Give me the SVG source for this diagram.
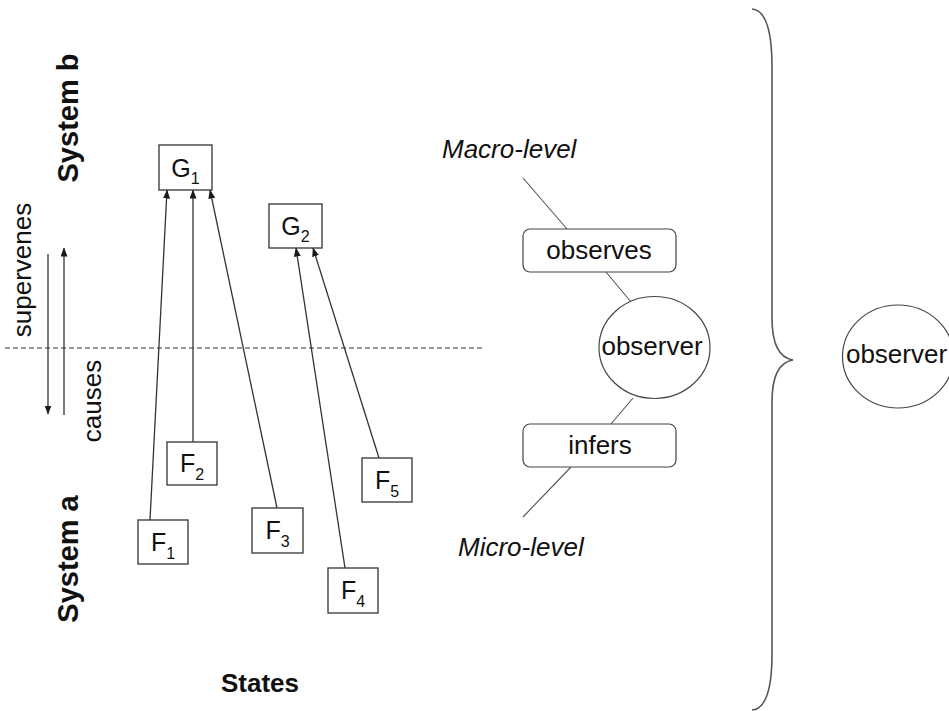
<svg xmlns="http://www.w3.org/2000/svg" width="949" height="711" viewBox="0 0 949 711">
<defs>
<marker id="ah" markerUnits="userSpaceOnUse" markerWidth="9" markerHeight="7" refX="8.5" refY="3.5" orient="auto">
<path d="M0,0 L9,3.5 L0,7 z" fill="#1a1a1a"/>
</marker>
<style>
text{font-family:"Liberation Sans",Arial,sans-serif;fill:#111;}
.t{font-size:26px;}
.b{font-weight:bold;}
.i{font-style:italic;}
.lbl{font-size:25px;text-anchor:middle;}
.sub{font-size:16px;}
.box{fill:#fff;stroke:#333;stroke-width:1.3;}
.rbox{fill:#fff;stroke:#444;stroke-width:1.2;}
.arr{stroke:#333;stroke-width:1.3;fill:none;marker-end:url(#ah);}
.ln{stroke:#555;stroke-width:1.1;fill:none;}
</style>
</defs>
<rect width="949" height="711" fill="#fff"/>

<g id="labels">
<text class="t b" transform="translate(78,118) rotate(-90)" text-anchor="middle" style="font-size:29px">System b</text>
<text class="t b" transform="translate(78,559) rotate(-90)" text-anchor="middle" style="font-size:29px">System a</text>
<text class="t" transform="translate(31,270) rotate(-90)" text-anchor="middle">supervenes</text>
<text class="t" transform="translate(101,401) rotate(-90)" text-anchor="middle">causes</text>
<text class="t b" x="260" y="692" text-anchor="middle">States</text>
<text class="t i" x="442" y="158">Macro-level</text>
<text class="t i" x="458" y="556">Micro-level</text>
</g>

<g id="connectors">
<line x1="5" y1="348" x2="482" y2="348" stroke="#333" stroke-width="1.1" stroke-dasharray="5,3"/>
<line class="arr" x1="48" y1="254" x2="48" y2="414"/>
<line class="arr" x1="64" y1="415" x2="64" y2="248"/>
<line class="arr" x1="150" y1="520" x2="167" y2="190"/>
<line class="arr" x1="193" y1="442" x2="193" y2="190"/>
<line class="arr" x1="277" y1="508" x2="210" y2="190"/>
<line class="arr" x1="345" y1="568" x2="296" y2="248"/>
<line class="arr" x1="379" y1="458" x2="313" y2="248"/>
<line class="ln" x1="523" y1="178" x2="567" y2="229"/>
<line class="ln" x1="606" y1="272" x2="631" y2="302"/>
<line class="ln" x1="633" y1="398" x2="611" y2="424"/>
<line class="ln" x1="571" y1="467" x2="523" y2="517"/>
</g>

<g id="G1"><rect class="box" x="159" y="145" width="53" height="45"/><text class="lbl" x="185.5" y="177">G<tspan class="sub" dy="7">1</tspan></text></g>
<g id="G2"><rect class="box" x="269" y="204" width="53" height="44"/><text class="lbl" x="295.5" y="235">G<tspan class="sub" dy="7">2</tspan></text></g>
<g id="F1"><rect class="box" x="138" y="520" width="50" height="44"/><text class="lbl" x="163" y="551">F<tspan class="sub" dy="8">1</tspan></text></g>
<g id="F2"><rect class="box" x="167" y="442" width="50" height="43"/><text class="lbl" x="192" y="472">F<tspan class="sub" dy="8">2</tspan></text></g>
<g id="F3"><rect class="box" x="252" y="508" width="51" height="45"/><text class="lbl" x="277.5" y="539">F<tspan class="sub" dy="8">3</tspan></text></g>
<g id="F4"><rect class="box" x="328" y="568" width="50" height="45"/><text class="lbl" x="353" y="599">F<tspan class="sub" dy="8">4</tspan></text></g>
<g id="F5"><rect class="box" x="362" y="458" width="50" height="44"/><text class="lbl" x="387" y="489">F<tspan class="sub" dy="8">5</tspan></text></g>

<g id="observes"><rect class="rbox" x="523" y="229" width="153" height="43" rx="7"/><text class="t" x="599" y="259" text-anchor="middle">observes</text></g>
<g id="observer"><ellipse class="rbox" cx="654.5" cy="347.5" rx="55.5" ry="51"/><text class="t" x="652" y="355" text-anchor="middle">observer</text></g>
<g id="infers"><rect class="rbox" x="523" y="424" width="153" height="43" rx="7"/><text class="t" x="600" y="454" text-anchor="middle">infers</text></g>

<g id="brace">
<path d="M752,9 C765,10 772,30 772,67 L772,318 C772,345 780,358 793,360 C780,362 772,375 772,402 L772,654 C772,690 765,709 752,710" fill="none" stroke="#555" stroke-width="1.6"/>
</g>

<g id="observer2"><ellipse class="rbox" cx="898" cy="356.5" rx="55.5" ry="51.5"/><text class="t" x="896.5" y="363" text-anchor="middle">observer</text></g>
</svg>
